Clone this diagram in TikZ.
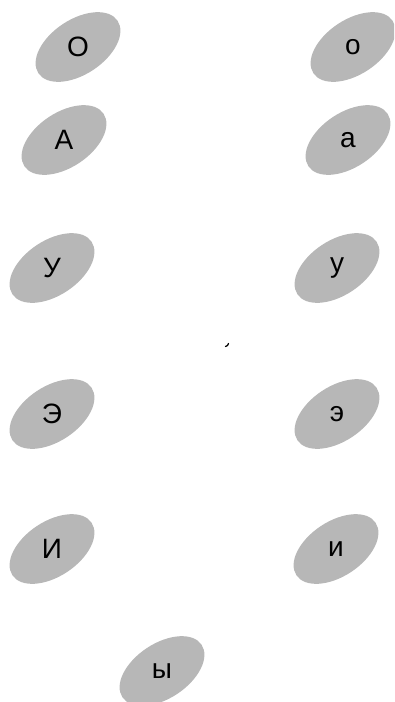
\documentclass[tikz,border=0pt]{standalone}
\usepackage{fontspec}
\setmainfont{Liberation Sans}
\definecolor{ellgray}{RGB}{183,183,183}
\tikzset{
  ellfill/.style={fill=ellgray},
  lbl/.style={inner sep=0pt, font=\fontsize{28}{30}\selectfont, text=black}
}
\newcommand\vowelell[3]{%
  \fill[ellfill, rotate around={33.5:(#1)}] (#1) ellipse [x radius=47.5, y radius=27.5];
  \node[lbl] (#3) at (#1) {#2};}
\begin{document}
\begin{tikzpicture}[x=1pt,y=-1pt]
\useasboundingbox (0,0) rectangle (394,702);
\clip (0,0) rectangle (394,702);
\vowelell{78,47}{О}{UO}
\vowelell{353,47}{о}{LO}
\vowelell{64,140}{А}{UA}
\vowelell{348,140}{а}{LA}
\vowelell{52,268}{У}{UU}
\vowelell{337,268}{у}{LU}
\vowelell{52,414}{Э}{UE}
\vowelell{337,414}{э}{LE}
\vowelell{52,549}{И}{UI}
\vowelell{336,549}{и}{LI}
\vowelell{162,671}{ы}{LY}
\draw[line width=1.2pt, line cap=round] (225.5,346.5) -- (227.5,345.5) -- (228.5,343.5);
\end{tikzpicture}
\end{document}
